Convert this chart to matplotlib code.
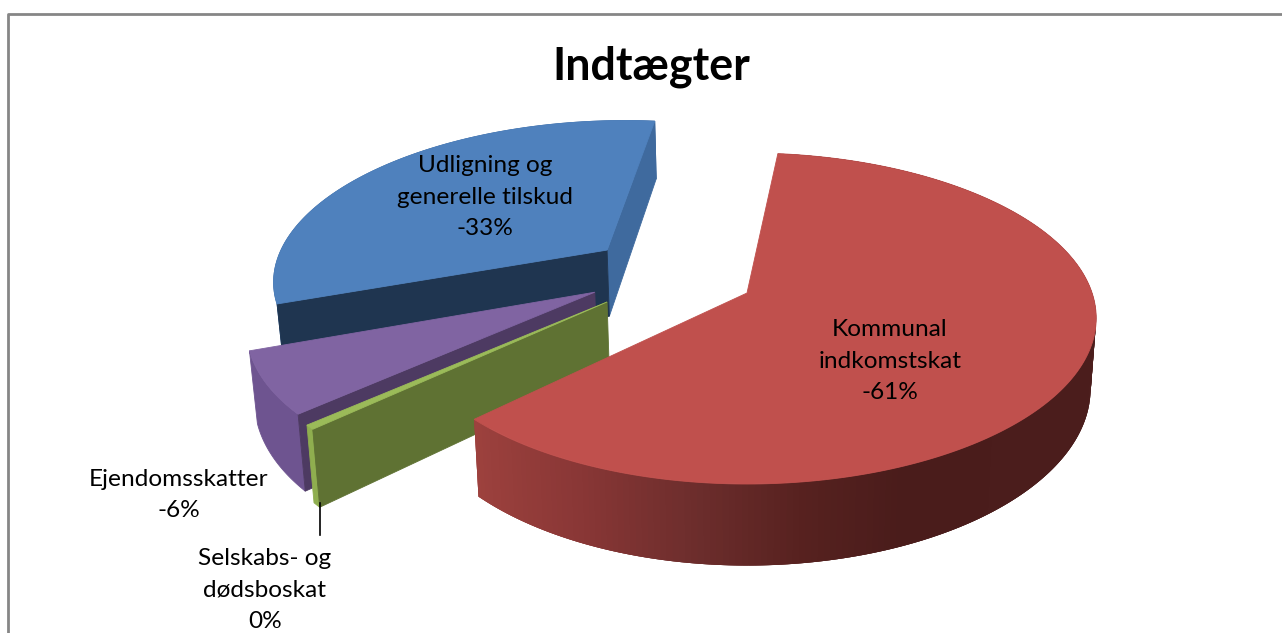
import numpy as np
import matplotlib
matplotlib.use("Agg")
import matplotlib.pyplot as plt
from matplotlib.patches import Polygon

# ---- data ----
title = "Indtægter"
categories = ["Kommunal\nindkomstskat", "Selskabs- og\ndødsboskat", "Ejendomsskatter", "Udligning og\ngenerelle tilskud"]
values = [61.5, 0.45, 6.3, 32.5]
pct_labels = ["-61%", "0%", "-6%", "-33%"]

# ---- style ----
top_colors = ["#C0504D", "#9BBB59", "#8064A2", "#4F81BD"]
cut_colors = ["#7A2F2D", "#5F7233", "#4D3A62", "#1F3550"]
side_colors = ["#7A2F2D", "#8FAE4F", "#6E5490", "#3F6A9E"]
# explosion of each slice on the pie plane
explode = [(0.0, 0.0), (-0.408, 0.055), (-0.448, -0.005), (-0.429, -0.277)]
angle_tweak = [0.0, 0.5, 0.0, 0.0]
start_deg = 6.0
X0, Y0, A, B, K, H = 747.0, 293.0, 340.0, 161.6, 0.154, 69.0
RIGHT_STRETCH = 0.015
CONVERGE = 0.984
RED_WALL_ANGLE = [6, 90, 157, 171, 188, 205, 226]
RED_WALL_COL = ["#4E2120", "#4C1E1D", "#4A1C1B", "#56211F", "#6E2E2D", "#8A3736", "#9E423E"]


def project(x, y, z=0.0):
    x = np.asarray(x, dtype=float)
    den = 1.0 - K * np.asarray(y)
    sx = X0 + A * x * (1 + RIGHT_STRETCH * np.clip(x, 0, None)) / den
    if z:
        sx = X0 + (sx - X0) * CONVERGE
    return sx, Y0 + (B * np.asarray(y) + z) / den


def rim(theta_deg, off):
    t = np.radians(theta_deg)
    return off[0] + np.sin(t), off[1] - np.cos(t)


fig = plt.figure(figsize=(12.82, 6.33), dpi=100)
ax = fig.add_axes([0, 0, 1, 1])
ax.set_xlim(0, 1282)
ax.set_ylim(633, 0)
ax.axis("off")

sweeps = np.array(values) / sum(values) * 360.0
starts = start_deg + np.concatenate([[0], np.cumsum(sweeps)[:-1]])
RED_CH = np.array([matplotlib.colors.to_rgb(c) for c in RED_WALL_COL]).T


def poly(xs, ys, color, z, lw=0.6):
    ax.add_patch(Polygon(np.column_stack([xs, ys]), closed=True, facecolor=color,
                         edgecolor=color if lw else "none", linewidth=lw, zorder=z))


def draw_slice(i, z0):
    off = explode[i]
    th0, th1 = starts[i] + angle_tweak[i], starts[i] + sweeps[i] + angle_tweak[i]
    thetas = np.linspace(th0, th1, 240)
    rx, ry = rim(thetas, off)
    tx, ty = project(rx, ry)
    bx, by = project(rx, ry, H)
    ax0, ay0 = project(off[0], off[1])
    ax1, ay1 = project(off[0], off[1], H)
    if i == 3:      # right-hand cut (end of the sweep) is visible for blue
        ex, ey = rim(th1, off)
        x1, y1 = project(ex, ey)
        x2, y2 = project(ex, ey, H)
        poly([ax0, x1, x2, ax1], [ay0, y1, y2, ay1], side_colors[3], z0)
    if i != 0:      # left-hand cut (start of the sweep)
        ex, ey = rim(th0, off)
        x1, y1 = project(ex, ey)
        x2, y2 = project(ex, ey, H)
        poly([ax0, x1, x2, ax1], [ay0, y1, y2, ay1], cut_colors[i], z0 + 0.2)
    # outer wall: overlapping strips hide the seams of the gradient
    n = len(thetas)
    if i == 0:
        for j in range(n - 1):
            k = min(j + 3, n - 1)
            col = [np.interp(thetas[j], RED_WALL_ANGLE, ch) for ch in RED_CH]
            poly([tx[j], tx[k], bx[k], bx[j]], [ty[j], ty[k], by[k], by[j]], col, z0 + 0.1, lw=0)
    else:
        poly(np.r_[tx, bx[::-1]], np.r_[ty, by[::-1]], side_colors[i], z0 + 0.1)
    # top
    poly(np.r_[ax0, tx], np.r_[ay0, ty], top_colors[i], z0 + 0.5)


for order, i in enumerate([3, 2, 1, 0]):
    draw_slice(i, 2 + order)

# texts
ax.text(651, 67, title, ha="center", va="center", fontsize=32.3, fontweight="bold",
        family="Lato", color="black", zorder=20)
label_pos = [(890, 361), (265, 590), (179, 495), (485, 197)]
for cat, pct, (lx, ly) in zip(categories, pct_labels, label_pos):
    ax.text(lx, ly, cat + "\n" + pct, ha="center", va="center", fontsize=17.6, family="Lato",
            color="black", linespacing=1.62, zorder=20)

# leader line
ax.plot([320, 320], [503, 535], color="black", lw=1.2, zorder=15)

# frame
ax.plot([8, 8, 1290], [640, 14, 14], color="#868686", lw=2, zorder=1)

fig.savefig("out.png", dpi=100, facecolor="white")
